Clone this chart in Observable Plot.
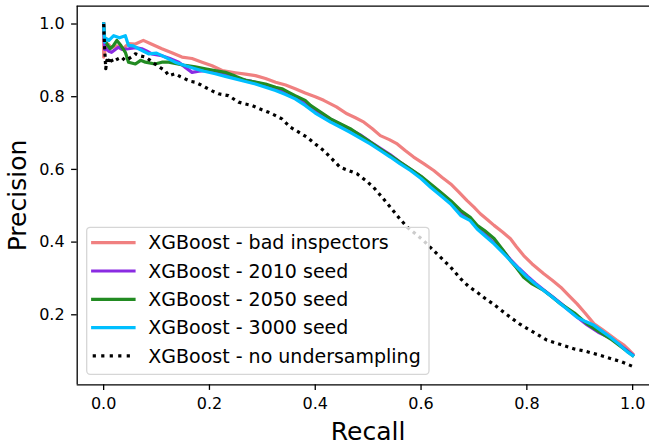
<!DOCTYPE html>
<html>
<head>
<meta charset="utf-8">
<script src="https://cdn.jsdelivr.net/npm/d3@7"></script>
<script src="https://cdn.jsdelivr.net/npm/@observablehq/plot@0.6"></script>
<style>
  html, body { margin: 0; padding: 0; background: #fff; }
  #chart { width: 649px; height: 446px; position: relative; overflow: hidden; }
</style>
</head>
<body>
<div id="chart"></div>
<script>
// ---- Data ----
const seriesNames = [
  "XGBoost - bad inspectors",
  "XGBoost - 2010 seed",
  "XGBoost - 2050 seed",
  "XGBoost - 3000 seed",
  "XGBoost - no undersampling"
];
const seriesColors = ["#F08080", "#8A2BE2", "#228B22", "#00BFFF", "#000000"];

const recallBad = [0, 0, 0.003, 0.008, 0.015, 0.025, 0.035, 0.047, 0.06, 0.075, 0.09, 0.11, 0.13, 0.148, 0.167, 0.186, 0.205, 0.224, 0.249, 0.268, 0.287, 0.306, 0.325, 0.344, 0.362, 0.381, 0.40, 0.416, 0.44, 0.46, 0.476, 0.492, 0.508, 0.523, 0.54, 0.555, 0.57, 0.586, 0.605, 0.624, 0.64, 0.656, 0.672, 0.687, 0.70, 0.712, 0.725, 0.738, 0.754, 0.769, 0.78, 0.794, 0.81, 0.832, 0.848, 0.864, 0.88, 0.895, 0.91, 0.927, 0.942, 0.958, 0.97, 0.984, 0.992, 1.0];
const precisionBad = [1.0, 0.909, 0.93, 0.945, 0.935, 0.94, 0.93, 0.946, 0.945, 0.955, 0.945, 0.932, 0.92, 0.909, 0.905, 0.895, 0.885, 0.872, 0.866, 0.862, 0.858, 0.85, 0.84, 0.832, 0.822, 0.81, 0.80, 0.79, 0.772, 0.753, 0.742, 0.73, 0.712, 0.693, 0.682, 0.670, 0.652, 0.634, 0.616, 0.597, 0.578, 0.56, 0.537, 0.514, 0.496, 0.478, 0.462, 0.446, 0.428, 0.409, 0.388, 0.363, 0.34, 0.313, 0.295, 0.276, 0.252, 0.23, 0.205, 0.175, 0.16, 0.143, 0.13, 0.116, 0.105, 0.093];

const recall2010 = [0, 0.002, 0.005, 0.01, 0.015, 0.022, 0.028, 0.036, 0.047, 0.06, 0.072, 0.082, 0.091, 0.11, 0.125, 0.142, 0.155, 0.167, 0.18, 0.192, 0.21, 0.236, 0.26, 0.28, 0.299, 0.32, 0.34, 0.356, 0.375, 0.391, 0.41, 0.429, 0.448, 0.466, 0.485, 0.504, 0.523, 0.542, 0.56, 0.58, 0.60, 0.618, 0.637, 0.656, 0.675, 0.693, 0.706, 0.72, 0.738, 0.754, 0.769, 0.785, 0.801, 0.816, 0.832, 0.848, 0.864, 0.88, 0.895, 0.914, 0.935, 0.958, 0.98, 1.0];
const precision2010 = [1.0, 0.93, 0.932, 0.925, 0.922, 0.93, 0.936, 0.93, 0.932, 0.935, 0.932, 0.925, 0.918, 0.913, 0.905, 0.895, 0.88, 0.867, 0.87, 0.872, 0.866, 0.858, 0.848, 0.842, 0.835, 0.826, 0.815, 0.803, 0.788, 0.772, 0.755, 0.738, 0.724, 0.71, 0.695, 0.676, 0.658, 0.64, 0.62, 0.6, 0.58, 0.558, 0.536, 0.512, 0.482, 0.462, 0.44, 0.422, 0.398, 0.378, 0.352, 0.328, 0.306, 0.287, 0.268, 0.25, 0.232, 0.212, 0.194, 0.172, 0.152, 0.136, 0.112, 0.09];

const recall2050 = [0, 0.002, 0.006, 0.012, 0.018, 0.025, 0.033, 0.041, 0.047, 0.06, 0.07, 0.079, 0.097, 0.11, 0.123, 0.14, 0.154, 0.173, 0.192, 0.21, 0.23, 0.25, 0.268, 0.287, 0.306, 0.325, 0.337, 0.35, 0.362, 0.381, 0.391, 0.41, 0.429, 0.448, 0.466, 0.485, 0.504, 0.523, 0.542, 0.56, 0.58, 0.60, 0.618, 0.637, 0.656, 0.675, 0.693, 0.706, 0.72, 0.738, 0.754, 0.769, 0.78, 0.794, 0.81, 0.832, 0.848, 0.864, 0.89, 0.914, 0.935, 0.958, 0.98, 1.0];
const precision2050 = [1.0, 0.96, 0.945, 0.932, 0.94, 0.955, 0.94, 0.922, 0.895, 0.89, 0.9, 0.895, 0.89, 0.895, 0.895, 0.89, 0.886, 0.882, 0.877, 0.872, 0.867, 0.856, 0.845, 0.84, 0.835, 0.826, 0.822, 0.812, 0.803, 0.79, 0.776, 0.758, 0.739, 0.725, 0.712, 0.694, 0.675, 0.656, 0.638, 0.62, 0.601, 0.581, 0.56, 0.537, 0.514, 0.487, 0.468, 0.446, 0.432, 0.41, 0.38, 0.349, 0.33, 0.303, 0.285, 0.267, 0.249, 0.23, 0.205, 0.175, 0.155, 0.134, 0.11, 0.088];

const recall3000 = [0, 0.002, 0.005, 0.01, 0.019, 0.03, 0.041, 0.047, 0.056, 0.066, 0.085, 0.1, 0.11, 0.135, 0.155, 0.173, 0.19, 0.211, 0.23, 0.249, 0.268, 0.287, 0.306, 0.325, 0.344, 0.362, 0.381, 0.40, 0.429, 0.448, 0.466, 0.485, 0.504, 0.523, 0.542, 0.56, 0.58, 0.60, 0.618, 0.637, 0.656, 0.675, 0.693, 0.706, 0.72, 0.738, 0.754, 0.769, 0.785, 0.801, 0.816, 0.832, 0.848, 0.864, 0.88, 0.895, 0.91, 0.927, 0.942, 0.958, 0.975, 0.99, 1.0];
const precision3000 = [1.0, 0.95, 0.96, 0.955, 0.968, 0.962, 0.968, 0.941, 0.94, 0.932, 0.918, 0.92, 0.913, 0.895, 0.885, 0.877, 0.87, 0.863, 0.856, 0.849, 0.842, 0.835, 0.826, 0.817, 0.806, 0.794, 0.776, 0.755, 0.73, 0.716, 0.702, 0.686, 0.670, 0.652, 0.634, 0.616, 0.597, 0.575, 0.551, 0.528, 0.505, 0.473, 0.459, 0.436, 0.418, 0.395, 0.372, 0.349, 0.326, 0.303, 0.285, 0.267, 0.249, 0.23, 0.211, 0.193, 0.182, 0.171, 0.155, 0.138, 0.118, 0.098, 0.088];

const recallNoUnder = [0, 0.002, 0.004, 0.006, 0.009, 0.012, 0.017, 0.022, 0.028, 0.034, 0.04, 0.047, 0.053, 0.06, 0.07, 0.079, 0.088, 0.097, 0.107, 0.116, 0.123, 0.135, 0.145, 0.154, 0.165, 0.173, 0.183, 0.192, 0.205, 0.217, 0.236, 0.255, 0.268, 0.28, 0.296, 0.312, 0.325, 0.337, 0.353, 0.368, 0.384, 0.40, 0.416, 0.432, 0.447, 0.463, 0.479, 0.495, 0.51, 0.526, 0.542, 0.56, 0.574, 0.59, 0.605, 0.62, 0.637, 0.656, 0.675, 0.69, 0.706, 0.722, 0.738, 0.752, 0.769, 0.785, 0.801, 0.82, 0.838, 0.864, 0.89, 0.91, 0.935, 0.958, 0.98, 1.0];
const precisionNoUnder = [1.0, 0.93, 0.877, 0.9, 0.89, 0.909, 0.895, 0.9, 0.905, 0.909, 0.9, 0.904, 0.91, 0.918, 0.912, 0.909, 0.9, 0.89, 0.88, 0.872, 0.858, 0.863, 0.855, 0.849, 0.842, 0.84, 0.833, 0.826, 0.816, 0.808, 0.803, 0.785, 0.78, 0.776, 0.766, 0.757, 0.748, 0.739, 0.716, 0.703, 0.689, 0.67, 0.652, 0.628, 0.606, 0.597, 0.588, 0.57, 0.551, 0.524, 0.496, 0.464, 0.441, 0.422, 0.404, 0.382, 0.358, 0.331, 0.299, 0.278, 0.262, 0.244, 0.228, 0.212, 0.193, 0.176, 0.162, 0.146, 0.13, 0.118, 0.106, 0.1, 0.09, 0.08, 0.07, 0.058];

const xTicks = [0, 0.2, 0.4, 0.6, 0.8, 1.0];
const yTicks = [0.2, 0.4, 0.6, 0.8, 1.0];
const xLabel = "Recall";
const yLabel = "Precision";

// ---- Build tables ----
const recalls = [recallBad, recall2010, recall2050, recall3000, recallNoUnder];
const precisions = [precisionBad, precision2010, precision2050, precision3000, precisionNoUnder];
const series = seriesNames.map((name, i) => ({
  name, color: seriesColors[i],
  rows: recalls[i].map((r, j) => ({recall: r, precision: precisions[i][j]}))
}));

const xDomain = [-0.05, 1.05];
const yDomain = [0.0074, 1.049];
const font = "DejaVu Sans, sans-serif";

const lineMarks = series.map((s, i) => Plot.line(s.rows, {
  x: "recall", y: "precision", stroke: s.color,
  strokeWidth: 3.2,
  strokeLinejoin: "round",
  strokeLinecap: i === 4 ? "butt" : "square",
  strokeDasharray: i === 4 ? "3.2,4.2" : null
}));

const plot = Plot.plot({
  width: 649,
  height: 446,
  marginLeft: 76.7,
  marginRight: -9.6,
  marginTop: 5.7,
  marginBottom: 61.7,
  style: {fontFamily: font, background: "#fff", color: "#000"},
  x: {domain: xDomain},
  y: {domain: yDomain},
  marks: [
    ...lineMarks,
    Plot.ruleX([xDomain[0]], {stroke: "#000", strokeWidth: 1.3}),
    Plot.ruleY([yDomain[0], yDomain[1]], {stroke: "#000", strokeWidth: 1.3}),
    Plot.axisX({ticks: xTicks, tickFormat: d3.format(".1f"), tickSize: 5.6, tickPadding: 7, fontSize: 16, label: null, stroke: "#000", strokeWidth: 1.3, strokeOpacity: 1}),
    Plot.axisY({ticks: yTicks, tickFormat: d3.format(".1f"), tickSize: 5.6, tickPadding: 7, fontSize: 16, label: null, stroke: "#000", strokeWidth: 1.3, strokeOpacity: 1}),
    Plot.text([xLabel], {frameAnchor: "bottom", textAnchor: "middle", lineAnchor: "middle", dy: 47, fontSize: 25, fill: "#000"}),
    Plot.text([yLabel], {frameAnchor: "left", textAnchor: "middle", lineAnchor: "middle", dx: -59.2, rotate: -90, fontSize: 25, fill: "#000"})
  ]
});

document.getElementById("chart").appendChild(plot);

// ---- Legend (drawn inside the SVG, lower-left) ----
const svg = d3.select(plot);
const lg = svg.append("g").attr("font-family", font).attr("text-anchor", "start");
lg.append("rect")
  .attr("x", 86.7).attr("y", 227.3)
  .attr("width", 342.3).attr("height", 147)
  .attr("rx", 3.5).attr("ry", 3.5)
  .attr("fill", "#fff").attr("fill-opacity", 0.8)
  .attr("stroke", "#d6d6d6").attr("stroke-width", 1.3);
series.forEach((s, i) => {
  const y = 242.7 + i * 28.3;
  lg.append("line")
    .attr("x1", 92.7).attr("x2", 134)
    .attr("y1", y).attr("y2", y)
    .attr("stroke", s.color).attr("stroke-width", 3.2)
    .attr("stroke-linecap", i === 4 ? "butt" : "square")
    .attr("stroke-dasharray", i === 4 ? "3.2,5.3" : null);
  lg.append("text")
    .attr("x", 148.3).attr("y", y)
    .attr("dy", "0.35em")
    .attr("text-anchor", "start")
    .attr("font-size", 19)
    .attr("fill", "#000")
    .text(s.name);
});
</script>
</body>
</html>
